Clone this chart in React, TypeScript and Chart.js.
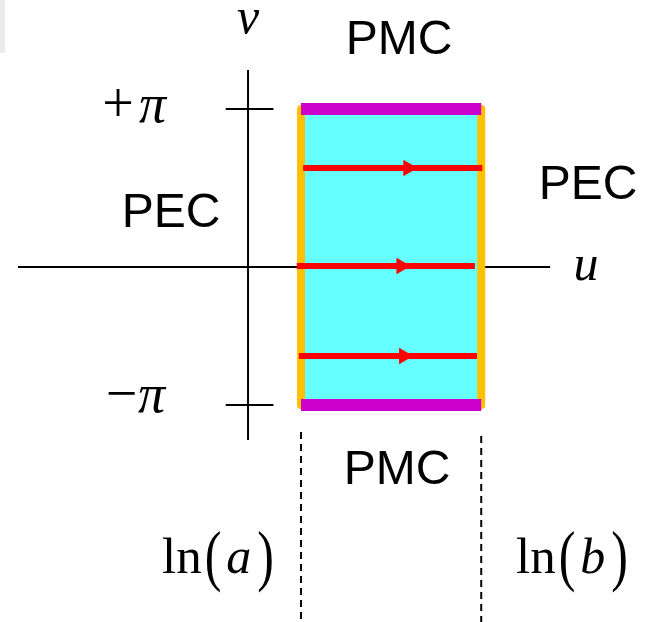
import React, { useEffect, useRef } from "react";
import { Chart, registerables } from "chart.js";

Chart.register(...registerables);

// ---- diagram data (u, v coordinates) ----
const PI = Math.PI;
const lnA = 1.0;
const lnB = 4.4;
const uAxisSpan = [-4.34, 5.7];
const uAxisLevel = -0.212;
const vAxisSpan = [3.97, -3.885];
const vTicks = [PI, -PI];
const vTickSpan = [-0.42, 0.48];
const arrowV = [1.89, -0.19, -2.1];
const arrowStart = [1.04, 0.92, 0.96];
const arrowEnd = [4.42, 4.28, 4.32];
const arrowHead = [3.02, 2.89, 2.94];
const dashTop = [-3.715, -3.8];
const dashBottom = -7.75;

const uRange = [-4.68, 7.547];
const vRange = [-7.748, 5.455];

const SERIF = '"Liberation Serif", "Times New Roman", serif';
const SANS = '"Liberation Sans", Arial, sans-serif';

const labelText = ["v", "u", "PMC", "PMC", "PEC", "PEC", "+", "π", "−", "π"];
const labelU = [0, 6.377, 2.849, 2.811, -1.453, 6.415, -2.453, -1.802, -2.387, -1.821];
const labelV = [4.755, -0.488, 4.309, -4.818, 0.637, 1.231, 2.866, 2.866, -3.29, -3.29];
const labelFont = [
  `italic 50px ${SERIF}`,
  `italic 50px ${SERIF}`,
  `48px ${SANS}`,
  `48px ${SANS}`,
  `48px ${SANS}`,
  `48px ${SANS}`,
  `56px ${SERIF}`,
  `italic 54px ${SERIF}`,
  `56px ${SERIF}`,
  `italic 54px ${SERIF}`,
];

const lnVars = ["a", "b"];
const lnU = [-1.623, 5.057];
const lnBaseV = -6.708;
const lnParenV = -6.814;

const seg = (x0: number, y0: number, x1: number, y1: number) => [
  { x: x0, y: y0 },
  { x: x1, y: y1 },
];

const labelsPlugin = {
  id: "diagramLabels",
  beforeDraw(chart: any) {
    const { ctx } = chart;
    ctx.save();
    ctx.fillStyle = "#ffffff";
    ctx.fillRect(0, 0, chart.width, chart.height);
    ctx.fillStyle = "#ebebeb";
    ctx.fillRect(0, 0, 5, 53);
    ctx.restore();
  },
  afterDraw(chart: any) {
    const { ctx } = chart;
    const xs = chart.scales.x;
    const ys = chart.scales.y;
    ctx.save();
    ctx.fillStyle = "#000";
    ctx.textBaseline = "alphabetic";
    ctx.textAlign = "center";
    labelText.forEach((t, i) => {
      ctx.font = labelFont[i];
      ctx.fillText(t, xs.getPixelForValue(labelU[i]), ys.getPixelForValue(labelV[i]));
    });
    ctx.textAlign = "left";
    lnVars.forEach((name, i) => {
      let cx = xs.getPixelForValue(lnU[i]);
      const yb = ys.getPixelForValue(lnBaseV);
      const yp = ys.getPixelForValue(lnParenV);
      const pieces: [string, string, number, number, number][] = [
        ["ln", `51px ${SERIF}`, yb, 3, 1],
        ["(", `50px ${SERIF}`, yp, 5, 1.36],
        [name, `italic 50px ${SERIF}`, yb, 6, 1],
        [")", `50px ${SERIF}`, yp, 0, 1.36],
      ];
      pieces.forEach(([t, f, yy, gap, sy]) => {
        ctx.font = f;
        ctx.save();
        ctx.translate(cx, yy);
        ctx.scale(1, sy);
        ctx.fillText(t, 0, 0);
        ctx.restore();
        cx += ctx.measureText(t).width + gap;
      });
    });
    ctx.restore();
  },
};

export default function App() {
  const ref = useRef<HTMLCanvasElement | null>(null);
  useEffect(() => {
    if (!ref.current) return;
    const line = (data: any[], color: string, width: number, order: number, extra: any = {}) => ({
      data,
      showLine: true,
      borderColor: color,
      borderWidth: width,
      pointRadius: 0,
      fill: false,
      order,
      ...extra,
    });
    const datasets: any[] = [
      // cyan region
      line(seg(lnA, PI, lnB, PI), "rgba(0,0,0,0)", 0, 10, {
        fill: { value: -PI },
        backgroundColor: "#66FFFF",
      }),
      // axes
      line(seg(uAxisSpan[0], uAxisLevel, uAxisSpan[1], uAxisLevel), "#000", 2, 12),
      line(seg(0, vAxisSpan[0], 0, vAxisSpan[1]), "#000", 2, 12),
      ...vTicks.map((t) => line(seg(vTickSpan[0], t, vTickSpan[1], t), "#000", 2, 12)),
      // PEC walls (orange)
      line(seg(lnA, PI, lnA, -PI), "#FFC000", 8, 9, { borderCapStyle: "round" }),
      line(seg(lnB, PI, lnB, -PI), "#FFC000", 8, 9, { borderCapStyle: "round" }),
      // PMC walls (magenta)
      line(seg(lnA, PI, lnB, PI), "#CC00CC", 12, 8),
      line(seg(lnA, -PI, lnB, -PI), "#CC00CC", 12, 8),
      // arrows
      ...arrowV.map((v, i) => line(seg(arrowStart[i], v, arrowEnd[i], v), "#FF0000", 6, 7)),
      {
        data: arrowV.map((v, i) => ({ x: arrowHead[i], y: v })),
        showLine: false,
        pointStyle: "triangle",
        rotation: 90,
        pointRadius: 9.5,
        pointBackgroundColor: "#FF0000",
        pointBorderColor: "#FF0000",
        pointBorderWidth: 0,
        order: 6,
      },
      // dashed guides
      line(seg(lnA, dashTop[0], lnA, dashBottom), "#000", 2, 5, { borderDash: [7, 5] }),
      line(seg(lnB, dashTop[1], lnB, dashBottom), "#000", 2, 5, { borderDash: [7, 5] }),
    ];
    const chart = new Chart(ref.current, {
      type: "scatter",
      data: { datasets },
      options: {
        animation: false,
        responsive: false,
        maintainAspectRatio: false,
        devicePixelRatio: 1,
        events: [],
        layout: { padding: 0, autoPadding: false },
        plugins: { legend: { display: false }, tooltip: { enabled: false } },
        scales: {
          x: { type: "linear", display: false, min: uRange[0], max: uRange[1] },
          y: { type: "linear", display: false, min: vRange[0], max: vRange[1] },
        },
      },
      plugins: [labelsPlugin],
    });
    return () => chart.destroy();
  }, []);
  return (
    <div style={{ position: "absolute", left: 0, top: 0, width: 648, height: 622 }}>
      <canvas ref={ref} width={648} height={622} style={{ width: 648, height: 622 }} />
    </div>
  );
}
